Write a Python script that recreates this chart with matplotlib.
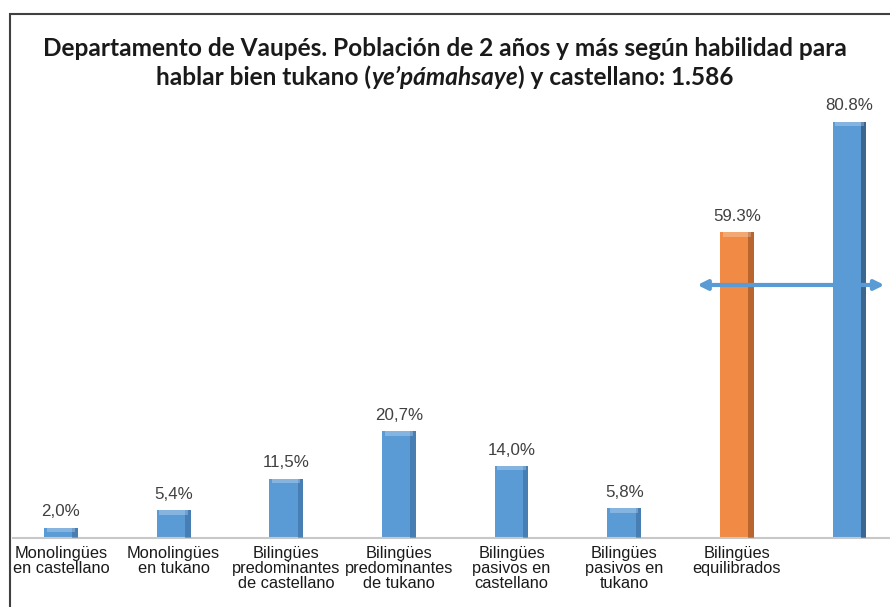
import matplotlib.pyplot as plt
from matplotlib.patches import Rectangle
from matplotlib.offsetbox import TextArea, HPacker, AnnotationBbox

# categories and values
categories = [
    "Monolingües\nen castellano",
    "Monolingües\nen tukano",
    "Bilingües\npredominantes\nde castellano",
    "Bilingües\npredominantes\nde tukano",
    "Bilingües\npasivos en\ncastellano",
    "Bilingües\npasivos en\ntukano",
    "Bilingües\nequilibrados",
    "",
]
values = [2.0, 5.4, 11.5, 20.7, 14.0, 5.8, 59.3, 80.8]
value_labels = ["2,0%", "5,4%", "11,5%", "20,7%", "14,0%", "5,8%", "59.3%", "80.8%"]
bar_colors = ["#5B9BD5"] * 6 + ["#F08A45", "#5B9BD5"]
shade_colors = ["#2F5F8F"] * 6 + ["#7A3A12", "#12263D"]
# double arrow spanning the last two groups
arrow_x = [5.65, 7.31]
arrow_y = 49.1

W, H = 890, 607
fig = plt.figure(figsize=(W / 100, H / 100), dpi=100)
ax = fig.add_axes([13 / W, (H - 538) / H, (890 - 13) / W, 438 / H])

x = list(range(len(values)))
bw = 0.30
ax.bar(x, values, width=bw, color=bar_colors, zorder=2)
# bevel: dark right side, light top
ax.bar([i + bw * 0.42 for i in x], values, width=bw * 0.16, color=shade_colors, alpha=0.45, zorder=3)
ax.bar(x, [0.9] * len(x), bottom=[v - 0.9 for v in values], width=bw * 0.84,
       color="white", alpha=0.25, zorder=3)

for i, (v, lab) in enumerate(zip(values, value_labels)):
    ax.annotate(lab, (i, v), xytext=(0, 6), textcoords="offset points",
                ha="center", va="bottom", fontsize=12.2, color="#404040",
                family="Liberation Sans")

ax.annotate("", xy=(arrow_x[1], arrow_y), xytext=(arrow_x[0], arrow_y),
            arrowprops=dict(arrowstyle="<|-|>", color="#5B9BD5", lw=3,
                            mutation_scale=14, shrinkA=0, shrinkB=0),
            zorder=5)

ax.set_xlim(-0.426, 7.36)
ax.set_ylim(0, 85)
ax.set_xticks(x)
ax.set_xticklabels(categories, fontsize=11.8, family="Liberation Sans",
                   color="#1A1A1A", linespacing=1.0)
ax.tick_params(axis="x", length=0, pad=6)
ax.set_yticks([])
for s in ["top", "right", "left"]:
    ax.spines[s].set_visible(False)
ax.spines["bottom"].set_color("#C8C8C8")
ax.spines["bottom"].set_linewidth(1.5)

# outer frame
fig.add_artist(Rectangle((10 / W, -0.05), 2, 1 - 14 / H + 0.05,
                         transform=fig.transFigure, fill=False,
                         edgecolor="#404040", lw=1.5))

# title, second line with an italic word
tprops = dict(fontsize=17.6, fontweight="bold", family="Lato", color="#1A1A1A")
fig.text(0.5, 1 - 48 / H, "Departamento de Vaupés. Población de 2 años y más según habilidad para",
         ha="center", va="center", **tprops)
parts = HPacker(children=[
    TextArea("hablar bien tukano (", textprops=tprops),
    TextArea("ye’pámahsaye", textprops=dict(tprops, fontstyle="italic")),
    TextArea(") y castellano: 1.586", textprops=tprops),
], align="baseline", pad=0, sep=0)
fig.add_artist(AnnotationBbox(parts, (0.5, 1 - 77 / H), xycoords="figure fraction",
                              frameon=False, box_alignment=(0.5, 0.5)))

fig.savefig("out.png", dpi=100)
